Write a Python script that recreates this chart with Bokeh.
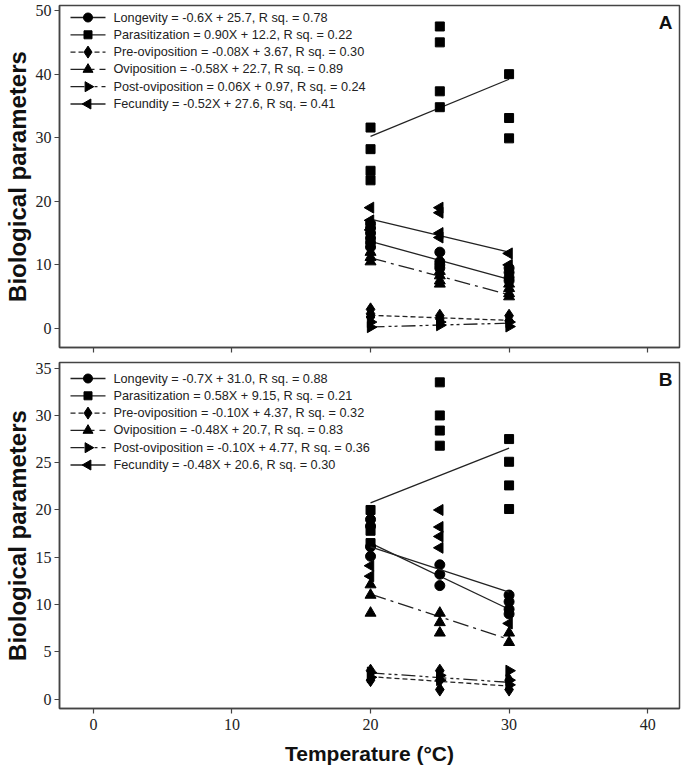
import math
from bokeh.plotting import figure
from bokeh.models import Range1d, Label, FixedTicker, CustomJSTickFormatter
from bokeh.core.properties import value
from bokeh.layouts import column
from bokeh.embed import file_html
from bokeh.resources import INLINE

temps = [20, 25, 30]

# panel A: values per temperature (20, 25, 30)
a_longevity = [[16.5, 15.8, 15.0, 14.2, 13.5, 12.8], [12.0, 10.5, 10.0, 9.5], [9.5, 8.8, 8.0, 7.5]]
a_parasitization = [[31.6, 28.2, 24.8, 23.3], [47.5, 45.0, 37.3, 34.8], [40.0, 33.1, 29.9]]
a_preovi = [[3.0, 2.3, 1.8], [2.0, 1.5], [2.0, 1.2]]
a_ovi = [[12.0, 11.2, 10.5], [9.0, 8.3, 7.5, 7.0], [7.0, 6.3, 5.5, 5.0]]
a_postovi = [[1.0, 0.2], [1.0, 0.5], [1.0, 0.3]]
a_fecundity = [[19.0, 17.0, 15.5], [19.0, 18.2, 15.0, 14.3], [11.8, 10.0]]
a_labels = ["Longevity = -0.6X + 25.7, R sq. = 0.78",
            "Parasitization = 0.90X + 12.2, R sq. = 0.22",
            "Pre-oviposition = -0.08X + 3.67, R sq. = 0.30",
            "Oviposition = -0.58X + 22.7, R sq. = 0.89",
            "Post-oviposition = 0.06X + 0.97, R sq. = 0.24",
            "Fecundity = -0.52X + 27.6, R sq. = 0.41"]
# fitted lines as drawn in the figure
a_slope = [-0.6, 0.90, -0.08, -0.58, 0.06, -0.52]
a_icept = [25.7, 12.2, 3.67, 22.7, -0.97, 27.6]

# panel B
b_longevity = [[19.0, 18.3, 16.1, 15.1], [14.2, 13.2, 12.0], [11.0, 10.3, 9.5, 9.0]]
b_parasitization = [[20.0, 17.8, 16.5], [33.5, 30.0, 28.4, 26.8], [27.5, 25.1, 22.6, 20.1]]
b_preovi = [[3.0, 2.0], [3.0, 2.0, 1.0], [2.0, 1.0]]
b_ovi = [[12.1, 11.0, 9.1], [9.1, 8.1, 7.0], [7.0, 6.0]]
b_postovi = [[2.8, 2.3], [2.5, 2.0], [3.0, 2.0, 1.5]]
b_fecundity = [[14.1, 13.0], [20.0, 18.2, 17.2, 16.0], [8.0]]
b_labels = ["Longevity = -0.7X + 31.0, R sq. = 0.88",
            "Parasitization = 0.58X + 9.15, R sq. = 0.21",
            "Pre-oviposition = -0.10X + 4.37, R sq. = 0.32",
            "Oviposition = -0.48X + 20.7, R sq. = 0.83",
            "Post-oviposition = -0.10X + 4.77, R sq. = 0.36",
            "Fecundity = -0.48X + 20.6, R sq. = 0.30"]
b_slope = [-0.7, 0.58, -0.10, -0.48, -0.10, -0.48]
b_icept = [30.5, 9.15, 4.37, 20.7, 4.77, 25.7]

# styles per series
markers = ["circle", "square", "diamond", "triangle", "triangle", "triangle"]
angles = [0, 0, 0, 0, -math.pi / 2, math.pi / 2]
sizes = [10, 9, 13, 11, 11, 11]
dashes = ["solid", "solid", "5 3", "16 5 3 5", "14 4 3 3 3 4", "solid"]

EDGE = "#444444"
FRAME_W = 620


def make_panel(groups, labels, slopes, icepts, yr, yticks, letter, frame_h, bottom, leg_top):
    p = figure(frame_width=FRAME_W, frame_height=frame_h,
               x_range=Range1d(-2.45, 42.3), y_range=Range1d(*yr),
               min_border_left=54, min_border_right=2,
               min_border_top=7 if bottom else 5, min_border_bottom=8,
               output_backend="svg", toolbar_location=None, tools="")
    p.grid.visible = False
    p.outline_line_color = EDGE
    p.outline_line_width = 1.5
    p.outline_line_alpha = 1
    for ax in [p.xaxis[0], p.yaxis[0]]:
        ax.axis_line_color = EDGE
        ax.axis_line_width = 1.5
        ax.major_tick_line_color = EDGE
        ax.major_tick_line_width = 1.2
        ax.major_tick_in = 0
        ax.major_tick_out = 5
        ax.minor_tick_line_color = None
        ax.major_label_text_font = "Liberation Sans Narrow"
        ax.major_label_text_font_size = "16px"
        ax.major_label_text_color = "#222222"
        ax.major_label_standoff = 3
        ax.axis_label_text_font = "Liberation Sans"
        ax.axis_label_text_font_style = "bold"
        ax.axis_label_text_color = "#111111"
    p.xaxis.ticker = FixedTicker(ticks=[0, 10, 20, 30, 40])
    p.yaxis.ticker = FixedTicker(ticks=yticks)
    p.yaxis.axis_label = "Biological parameters"
    p.yaxis.axis_label_text_font_size = "24px"
    p.yaxis.axis_label_standoff = 2
    if bottom:
        p.xaxis.axis_label = "Temperature (°C)"
        p.xaxis.axis_label_text_font_size = "21px"
        p.xaxis.axis_label_standoff = 9
        p.xaxis.major_label_standoff = 5
    else:
        p.xaxis.formatter = CustomJSTickFormatter(code="return ''")
        p.xaxis.major_label_standoff = 0

    for i, vals in enumerate(groups):
        xs = [t for t, col in zip(temps, vals) for _ in col]
        ys = [v for col in vals for v in col]
        lx = [temps[0], temps[-1]]
        ly = [slopes[i] * t + icepts[i] for t in lx]
        p.line(lx, ly, line_color="#222222", line_width=1.3, line_dash=dashes[i])
        p.scatter(xs, ys, marker=markers[i], size=sizes[i], angle=angles[i],
                  fill_color="black", line_color="black")

    # legend drawn in frame pixel space (y measured from the top)
    p.extra_x_ranges["px"] = Range1d(0, FRAME_W)
    p.extra_y_ranges["py"] = Range1d(frame_h, 0)
    row_h = 17.3
    for i, lab in enumerate(labels):
        yy = leg_top + row_h * i
        p.line([11, 46], [yy, yy], x_range_name="px", y_range_name="py",
               line_color="#222222", line_width=1.3, line_dash=dashes[i])
        p.scatter([28.5], [yy], x_range_name="px", y_range_name="py",
                  marker=markers[i], size=sizes[i] - 1, angle=angles[i],
                  fill_color="black", line_color="black")
        p.text([54], [yy], text=[lab], x_range_name="px", y_range_name="py",
               text_font=value("Liberation Sans"), text_font_size="12.7px",
               text_color="#222222", text_baseline="middle", text_align="left")

    p.add_layout(Label(x=42.3, y=yr[1], x_offset=-7, y_offset=-6, text=letter,
                       text_align="right", text_baseline="top",
                       text_font="Liberation Sans", text_font_style="bold",
                       text_font_size="19px", text_color="#111111"))
    return p


pa = make_panel([a_longevity, a_parasitization, a_preovi, a_ovi, a_postovi, a_fecundity],
                a_labels, a_slope, a_icept, (-3.0, 50.8), [0, 10, 20, 30, 40, 50], "A", 342, False, 12)
pb = make_panel([b_longevity, b_parasitization, b_preovi, b_ovi, b_postovi, b_fecundity],
                b_labels, b_slope, b_icept, (-1.0, 35.6), [0, 5, 10, 15, 20, 25, 30, 35], "B", 346, True, 16)

layout = column(pa, pb, spacing=0)
open("out.html", "w").write(file_html(layout, INLINE))
